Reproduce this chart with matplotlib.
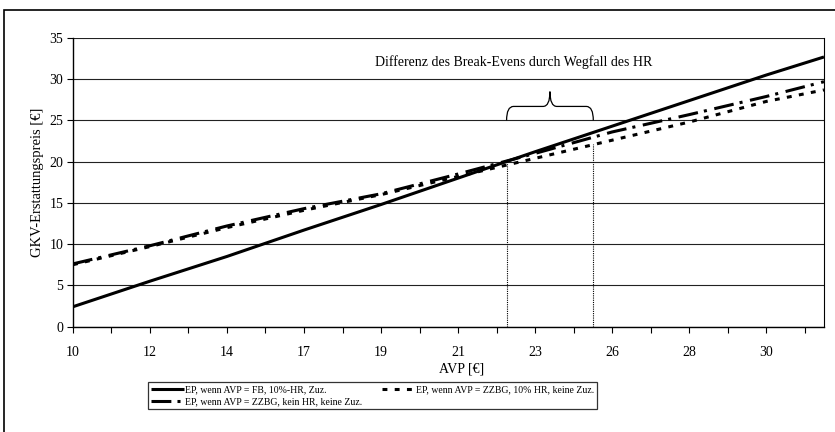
import matplotlib
matplotlib.use('Agg')
import matplotlib.pyplot as plt
from matplotlib.patches import Rectangle, PathPatch
from matplotlib.path import Path

plt.rcParams['font.family'] = ['Liberation Serif', 'DejaVu Serif']

# AVP values (x) read at the labelled tick positions plus the right edge
avp = [10, 12.22, 14.44, 16.66, 18.88, 21.1, 23.32, 25.54, 27.76, 29.98, 31.65]
ep_fb = [2.4, 5.5, 8.5, 11.7, 14.8, 18.0, 21.2, 24.3, 27.4, 30.5, 32.7]
ep_zzbg_kein_hr = [7.6, 9.8, 12.2, 14.3, 16.1, 18.5, 21.0, 23.6, 25.7, 27.9, 29.7]
ep_zzbg_10_hr = [7.5, 9.7, 12.0, 14.1, 16.0, 18.2, 20.4, 22.6, 24.8, 27.3, 28.7]

# break-even points marked by dotted drop lines
breakeven_x = [22.5, 25.0]
breakeven_y = [20.0, 22.2]

tick_labels = ['10', '12', '14', '17', '19', '21', '23', '26', '28', '30']
labels = ['EP, wenn AVP = FB, 10%-HR, Zuz.',
          'EP, wenn AVP = ZZBG, kein HR, keine Zuz.',
          'EP, wenn AVP = ZZBG, 10% HR, keine Zuz.']

fig = plt.figure(figsize=(8.35, 4.32), dpi=100)
ax = fig.add_axes([0.0874, 0.2442, 0.8994, 0.6678])

lw = 2.2
l1, = ax.plot(avp, ep_fb, color='black', lw=lw, solid_capstyle='butt')
l2, = ax.plot(avp, ep_zzbg_kein_hr, color='black', lw=lw,
              dashes=(6.5, 2, 1, 2.5))
l3, = ax.plot(avp, ep_zzbg_10_hr, color='black', lw=lw, dashes=(1.6, 2.4))

for bx, by in zip(breakeven_x, breakeven_y):
    ax.plot([bx, bx], [0, by], color='black', lw=0.8, ls=(0, (1, 1)))

# curly brace between the break-even points
x1, x2 = breakeven_x
xc = (x1 + x2) / 2
yb, ym, yt = 25.0, 26.7, 28.5
verts = [(x1, yb), (x1, ym), (x1 + 0.2, ym), (xc - 0.2, ym), (xc, ym), (xc, yt),
         (xc, ym), (xc + 0.2, ym), (x2 - 0.2, ym), (x2, ym), (x2, yb)]
codes = [Path.MOVETO, Path.CURVE3, Path.CURVE3, Path.LINETO, Path.CURVE3, Path.CURVE3,
         Path.CURVE3, Path.CURVE3, Path.LINETO, Path.CURVE3, Path.CURVE3]
ax.add_patch(PathPatch(Path(verts, codes), fill=False, lw=0.9, edgecolor='black'))

ax.text(22.7, 32.1, 'Differenz des Break-Evens durch Wegfall des HR',
        ha='center', va='center', fontsize=10)

ax.set_xlim(10, 31.65)
ax.set_ylim(0, 35)
ax.set_yticks(range(0, 36, 5))
xt = [10 + 1.11 * k for k in range(20)]
ax.set_xticks(xt)
ax.set_xticklabels([tick_labels[k // 2] if k % 2 == 0 else '' for k in range(20)])
ax.tick_params(axis='x', length=4, width=0.8, pad=10, labelsize=10)
ax.tick_params(axis='y', length=4, width=0.8, pad=3, labelsize=10)
ax.yaxis.grid(True, color='#222222', lw=0.8)
ax.set_axisbelow(True)

for s in ['left', 'bottom']:
    ax.spines[s].set_linewidth(1.0)
ax.spines['top'].set_visible(False)
ax.spines['right'].set_linestyle((0, (1, 1)))
ax.spines['right'].set_linewidth(0.8)

ax.set_ylabel('GKV-Erstattungspreis [€]', fontsize=10.5, labelpad=4)
ax.set_xlabel('AVP [€]', fontsize=10)
ax.xaxis.set_label_coords(0.518, -0.125)

leg = fig.legend([l1, l2, l3], labels, ncol=2, loc='lower left',
                 bbox_to_anchor=(0.172, 0.042), fontsize=7, frameon=True,
                 fancybox=False, edgecolor='black', borderpad=0.3,
                 labelspacing=0.3, handlelength=3.4, handletextpad=0.1,
                 columnspacing=2.0)
leg.get_frame().set_linewidth(0.9)

# outer chart frame (cut at right and bottom)
fig.patches.append(Rectangle((4 / 835, -0.05), 1.1, 1 - 10 / 432 + 0.05,
                             transform=fig.transFigure, fill=False,
                             lw=1.2, edgecolor='black'))

fig.savefig('out.png', dpi=100)
